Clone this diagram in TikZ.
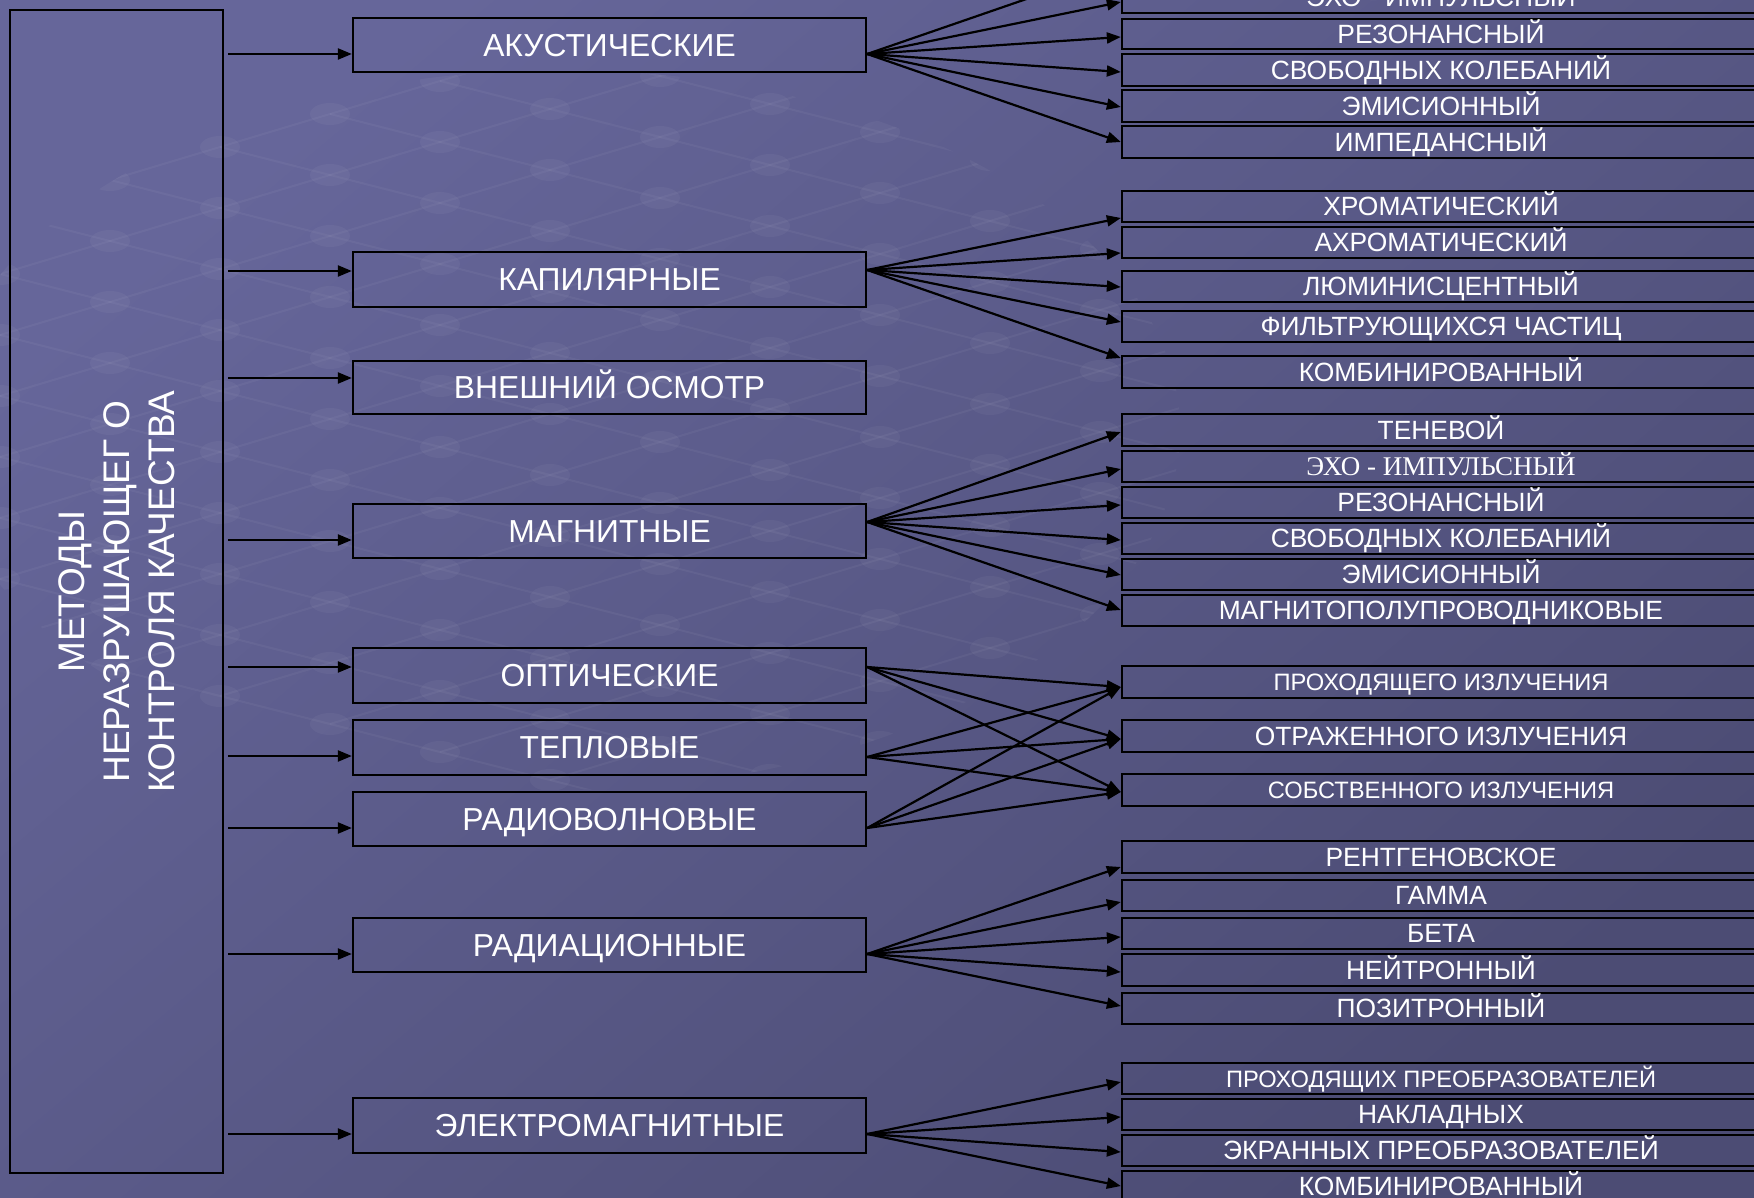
\documentclass[tikz,border=0pt]{standalone}
\usepackage{fontspec}
\setmainfont{Liberation Sans}
\newfontfamily\serifcyr{Liberation Serif}
\usetikzlibrary{arrows.meta}
\definecolor{bgA}{RGB}{102,102,154}
\definecolor{bgB}{RGB}{76,76,116}
\tikzset{
  box/.style={draw=black, line width=2.3pt, inner sep=0pt, text=white},
  mbox/.style={box, minimum width=513pt, font=\fontsize{31.8}{36}\selectfont, text height=22.7pt, text depth=0pt},
  rbox/.style={box, minimum width=638pt, font=\fontsize{26.4}{30}\selectfont, text height=18.9pt, text depth=0pt},
  smalltxt/.style={font=\fontsize{23.7}{28}\selectfont, text height=17pt},
  seriftxt/.style={font=\serifcyr\fontsize{27}{30}\selectfont, text height=17.9pt},
  arr/.style={line width=2.2pt, -{Triangle[length=14pt,width=11pt]}},
  bgline/.style={white, opacity=0.045, line width=2pt},
  bgdot/.style={white, opacity=0.04},
}
\newcommand\mnode[4]{\node[mbox, minimum height={#3-#2}] (#1) at (609.5,{(#2+#3)/2}) {#4};}
\newcommand\rnode[5][]{\node[rbox,#1, minimum height={#4-#3}] (#2) at (1441,{(#3+#4)/2}) {#5};}
\begin{document}
\begin{tikzpicture}[x=1pt,y=-1pt]
\useasboundingbox (0,0) rectangle (1754,1198);
\clip (0,0) rectangle (1754,1198);
\shade[top color=bgA, bottom color=bgB, shading angle=40] (-10,-10) rectangle (1764,1208);

% faint background grid
\begin{scope}
\clip (560,430) ellipse [x radius=620pt, y radius=360pt];
\foreach \j in {-7,...,7}
  \draw[bgline] ({0+\j*110},{640+\j*28}) -- ({1430+\j*110},{640-13*33+\j*28});
\foreach \i in {0,...,13}
  \draw[bgline] ({\i*110-770},{640-\i*33-196}) -- ({\i*110+770},{640-\i*33+196});
\foreach \i in {0,...,13}
  \foreach \j in {-7,...,7}
    \fill[bgdot] ({\i*110+\j*110},{640-\i*33+\j*28}) ellipse [x radius=20pt, y radius=11pt];
\end{scope}

% left box
\node[box, minimum width=213pt, minimum height=1163pt] (L) at (116.5,591.5) {};
\node[rotate=90, text=white, align=center, font=\fontsize{37}{45}\selectfont] (Lt) at (L.center) {МЕТОДЫ\\НЕРАЗРУШАЮЩЕГ О\\КОНТРОЛЯ КАЧЕСТВА};

% middle boxes
\mnode{m1}{18}{72}{АКУСТИЧЕСКИЕ}
\mnode{m2}{252}{307}{КАПИЛЯРНЫЕ}
\mnode{m3}{361}{414}{ВНЕШНИЙ ОСМОТР}
\mnode{m4}{504}{558}{МАГНИТНЫЕ}
\mnode{m5}{648}{703}{ОПТИЧЕСКИЕ}
\mnode{m6}{720}{775}{ТЕПЛОВЫЕ}
\mnode{m7}{792}{846}{РАДИОВОЛНОВЫЕ}
\mnode{m8}{918}{972}{РАДИАЦИОННЫЕ}
\mnode{m9}{1098}{1153}{ЭЛЕКТРОМАГНИТНЫЕ}

% right boxes: acoustic
\rnode{a0}{-18}{13}{ЭХО - ИМПУЛЬСНЫЙ}
\rnode{a1}{19}{49}{РЕЗОНАНСНЫЙ}
\rnode{a2}{54}{86}{СВОБОДНЫХ КОЛЕБАНИЙ}
\rnode{a3}{90}{122}{ЭМИСИОННЫЙ}
\rnode{a4}{126}{158}{ИМПЕДАНСНЫЙ}
% capillary
\rnode{c1}{191}{222}{ХРОМАТИЧЕСКИЙ}
\rnode{c2}{227}{258}{АХРОМАТИЧЕСКИЙ}
\rnode{c3}{271}{302}{ЛЮМИНИСЦЕНТНЫЙ}
\rnode{c4}{311}{342}{ФИЛЬТРУЮЩИХСЯ ЧАСТИЦ}
\rnode{c5}{356}{388}{КОМБИНИРОВАННЫЙ}
% magnetic
\rnode{g1}{414}{446}{ТЕНЕВОЙ}
\rnode[seriftxt]{g2}{451}{482}{ЭХО - ИМПУЛЬСНЫЙ}
\rnode{g3}{487}{518}{РЕЗОНАНСНЫЙ}
\rnode{g4}{523}{554}{СВОБОДНЫХ КОЛЕБАНИЙ}
\rnode{g5}{559}{590}{ЭМИСИОННЫЙ}
\rnode{g6}{595}{626}{МАГНИТОПОЛУПРОВОДНИКОВЫЕ}
% optical / thermal / radiowave
\rnode[smalltxt]{o1}{666}{698}{ПРОХОДЯЩЕГО ИЗЛУЧЕНИЯ}
\rnode{o2}{720}{752}{ОТРАЖЕННОГО ИЗЛУЧЕНИЯ}
\rnode[smalltxt]{o3}{774}{806}{СОБСТВЕННОГО ИЗЛУЧЕНИЯ}
% radiation
\rnode{d1}{841}{873}{РЕНТГЕНОВСКОЕ}
\rnode{d2}{880}{911}{ГАММА}
\rnode{d3}{918}{949}{БЕТА}
\rnode{d4}{954}{986}{НЕЙТРОННЫЙ}
\rnode{d5}{993}{1024}{ПОЗИТРОННЫЙ}
% electromagnetic
\rnode[smalltxt]{e1}{1063}{1094}{ПРОХОДЯЩИХ ПРЕОБРАЗОВАТЕЛЕЙ}
\rnode{e2}{1099}{1130}{НАКЛАДНЫХ}
\rnode{e3}{1135}{1166}{ЭКРАННЫХ ПРЕОБРАЗОВАТЕЛЕЙ}
\rnode{e4}{1171}{1202}{КОМБИНИРОВАННЫЙ}

% left arrows
\foreach \m/\y in {m1/54, m2/271, m3/378, m4/540, m5/667, m6/756, m7/828, m8/954, m9/1134}
  \draw[arr, shorten <=4pt] (L.east|-0,\y) -- (\m.west|-0,\y);

% acoustic fan
\coordinate (a00) at (1122,-34);
\draw[arr] (m1.east|-0,54) -- (a00);
\foreach \n/\y in {a0/2, a1/37, a2/72, a3/107, a4/142}
  \draw[arr] (m1.east|-0,54) -- (\n.west|-0,\y);
% capillary fan
\foreach \n/\y in {c1/218, c2/253, c3/287, c4/322, c5/358}
  \draw[arr] (m2.east|-0,270) -- (\n.west|-0,\y);
% magnetic fan
\foreach \n/\y in {g1/432, g2/469, g3/505, g4/540, g5/575, g6/610}
  \draw[arr] (m4.east|-0,522) -- (\n.west|-0,\y);
% optical, thermal, radiowave crossing
\foreach \m/\s in {m5/667, m6/757, m7/828}
  \foreach \n/\y in {o1/687, o2/739, o3/792}
    \draw[arr] (\m.east|-0,\s) -- (\n.west|-0,\y);
% radiation fan
\foreach \n/\y in {d1/867, d2/902, d3/937, d4/972, d5/1006}
  \draw[arr] (m8.east|-0,954) -- (\n.west|-0,\y);
% electromagnetic fan
\foreach \n/\y in {e1/1082, e2/1117, e3/1152, e4/1186}
  \draw[arr] (m9.east|-0,1134) -- (\n.west|-0,\y);
\end{tikzpicture}
\end{document}
